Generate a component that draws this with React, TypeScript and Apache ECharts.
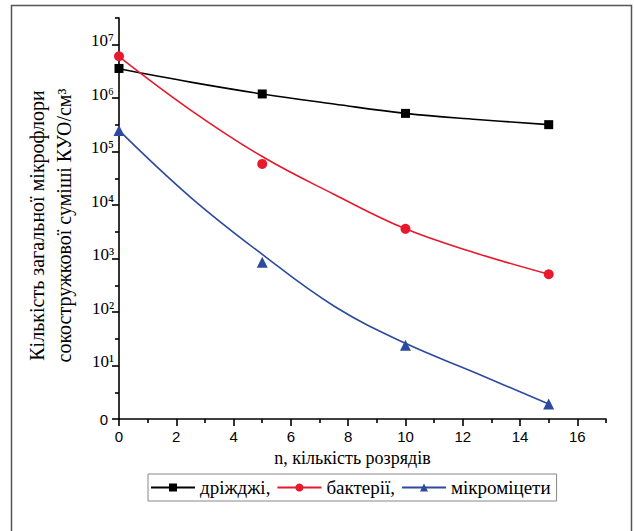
import React, { useEffect, useRef } from 'react';
import * as echarts from 'echarts';

// Measured points (n = number of discharges)
const pointN = [0, 5, 10, 15];
const yeastPoints = [3.6e6, 1.2e6, 5.2e5, 3.2e5];
const bacteriaPoints = [6.1e6, 5.9e4, 3.6e3, 510];
const micromycetesPoints = [2.5e5, 850, 24, 1.9];

// Fitted curves
const curveN = [0, 2.5, 5, 7.5, 10, 12.5, 15];
const yeastCurve = [3.55e6, 2.0e6, 1.2e6, 7.8e5, 5.2e5, 4.0e5, 3.2e5];
const bacteriaCurve = [6.0e6, 6.0e5, 8.1e4, 1.6e4, 3.6e3, 1.25e3, 510];
const micromycetesCurve = [2.5e5, 1.4e4, 1.2e3, 130, 26, 7.1, 1.9];

const seriesNames = ['дріжджі,', 'бактерії,', 'мікроміцети'];
const seriesColors = ['#000000', '#e8192c', '#2d4b9e'];
const seriesSymbols = ['rect', 'circle', 'triangle'];
const symbolSizes = [9, 10, 11];

const xMajorTicks = [0, 2, 4, 6, 8, 10, 12, 14, 16];
const xMinorTicks = [1, 3, 5, 7, 9, 11, 13, 15, 17];
const yDecades = [0, 1, 2, 3, 4, 5, 6, 7];
const yHalfDecades = [0.5, 1.5, 2.5, 3.5, 4.5, 5.5, 6.5, 7.5];
const yTickLabels = ['0', '10¹', '10²', '10³', '10⁴', '10⁵', '10⁶', '10⁷'];

const xTitle = 'n, кількість розрядів';
const yTitle = 'Кількість загальної мікрофлори\nсокостружкової суміші КУО/см³';

const SERIF = '"Liberation Serif", "Times New Roman", serif';
const SANS = '"Liberation Sans", Arial, sans-serif';

const toLog = (v: number) => Math.log10(v);

export default function App() {
  const ref = useRef<HTMLDivElement>(null);
  useEffect(() => {
    if (!ref.current) return;
    const chart = echarts.init(ref.current, null, { renderer: 'svg' });
    const curves = [yeastCurve, bacteriaCurve, micromycetesCurve];
    const points = [yeastPoints, bacteriaPoints, micromycetesPoints];
    const series: any[] = [];
    seriesNames.forEach((name, i) => {
      series.push({
        name,
        type: 'line',
        xAxisIndex: 0,
        yAxisIndex: 0,
        smooth: 0.4,
        symbol: seriesSymbols[i],
        symbolSize: symbolSizes[i],
        showSymbol: false,
        data: curveN.map((n, k) => [n, toLog(curves[i][k])]),
        lineStyle: { color: seriesColors[i], width: 1.6 },
        itemStyle: { color: seriesColors[i] },
        z: 2,
      });
    });
    seriesNames.forEach((name, i) => {
      series.push({
        name,
        type: 'scatter',
        xAxisIndex: 0,
        yAxisIndex: 0,
        symbol: seriesSymbols[i],
        symbolSize: symbolSizes[i],
        data: pointN.map((n, k) => [n, toLog(points[i][k])]),
        itemStyle: { color: seriesColors[i], opacity: 1 },
        z: 3,
      });
    });

    const axisLine = { show: true, lineStyle: { color: '#000', width: 1.6 } };
    chart.setOption({
      animation: false,
      backgroundColor: '#fff',
      grid: { left: 119, right: 28, top: 18, bottom: 112, containLabel: false },
      graphic: [
        {
          type: 'rect',
          shape: { x: 11.5, y: 5.5, width: 620, height: 560 },
          style: { fill: 'none', stroke: '#555', lineWidth: 1.5 },
          silent: true,
          z: -1,
        },
      ],
      legend: {
        left: 148,
        top: 474,
        data: seriesNames,
        itemWidth: 44,
        itemHeight: 10,
        itemGap: 6,
        borderColor: '#888',
        borderWidth: 1,
        borderRadius: 0,
        padding: [4, 6, 4, 2],
        textStyle: { fontFamily: SERIF, fontSize: 19, color: '#000' },
      },
      xAxis: [
        {
          type: 'value',
          min: 0,
          max: 17,
          interval: 1,
          name: xTitle,
          nameLocation: 'middle',
          nameGap: 30,
          nameTextStyle: {
            fontFamily: SERIF,
            fontSize: 18,
            color: '#000',
            padding: [0, 20, 0, 0],
          },
          axisLine: { ...axisLine, onZero: false },
          axisTick: { show: true, length: 7, customValues: xMajorTicks, lineStyle: { color: '#000', width: 1.6 } },
          axisLabel: {
            customValues: xMajorTicks,
            margin: 10,
            fontFamily: SANS,
            fontSize: 15,
            color: '#000',
          },
          splitLine: { show: false },
        },
        {
          type: 'value',
          min: 0,
          max: 17,
          interval: 1,
          position: 'bottom',
          axisLine: { show: false, onZero: false },
          axisTick: { show: true, length: 4, customValues: xMinorTicks, lineStyle: { color: '#000', width: 1.6 } },
          axisLabel: { show: false },
          splitLine: { show: false },
        },
      ],
      yAxis: [
        {
          type: 'value',
          min: 0,
          max: 7.5,
          interval: 0.5,
          position: 'left',
          name: yTitle,
          nameLocation: 'middle',
          nameRotate: 90,
          nameGap: 42,
          nameTextStyle: {
            fontFamily: SERIF,
            fontSize: 20,
            lineHeight: 27,
            color: '#000',
            align: 'center',
            padding: [0, 14, 0, 0],
          },
          axisLine: { ...axisLine, onZero: false },
          axisTick: { show: true, length: 7, customValues: yDecades, lineStyle: { color: '#000', width: 1.6 } },
          axisLabel: {
            customValues: yDecades,
            margin: 5,
            formatter: (v: number) => {
              const label = yTickLabels[Math.round(v)];
              return v === 0 ? `{z|${label}}` : `{b|${label}}`;
            },
            rich: {
              b: {
                fontFamily: SERIF,
                fontSize: 17,
                lineHeight: 17,
                color: '#000',
                padding: [0, 0, 8, 0],
              },
              z: {
                fontFamily: SANS,
                fontSize: 15,
                color: '#000',
                padding: [0, 6, 0, 0],
              },
            },
          },
          splitLine: { show: false },
        },
        {
          type: 'value',
          min: 0,
          max: 7.5,
          interval: 0.5,
          position: 'left',
          axisLine: { show: false, onZero: false },
          axisTick: { show: true, length: 4, customValues: yHalfDecades, lineStyle: { color: '#000', width: 1.6 } },
          axisLabel: { show: false },
          splitLine: { show: false },
        },
      ],
      series,
    });
    return () => chart.dispose();
  }, []);
  return (
    <div
      ref={ref}
      style={{ position: 'fixed', left: 0, top: 0, width: 634, height: 531, background: '#fff' }}
    />
  );
}
